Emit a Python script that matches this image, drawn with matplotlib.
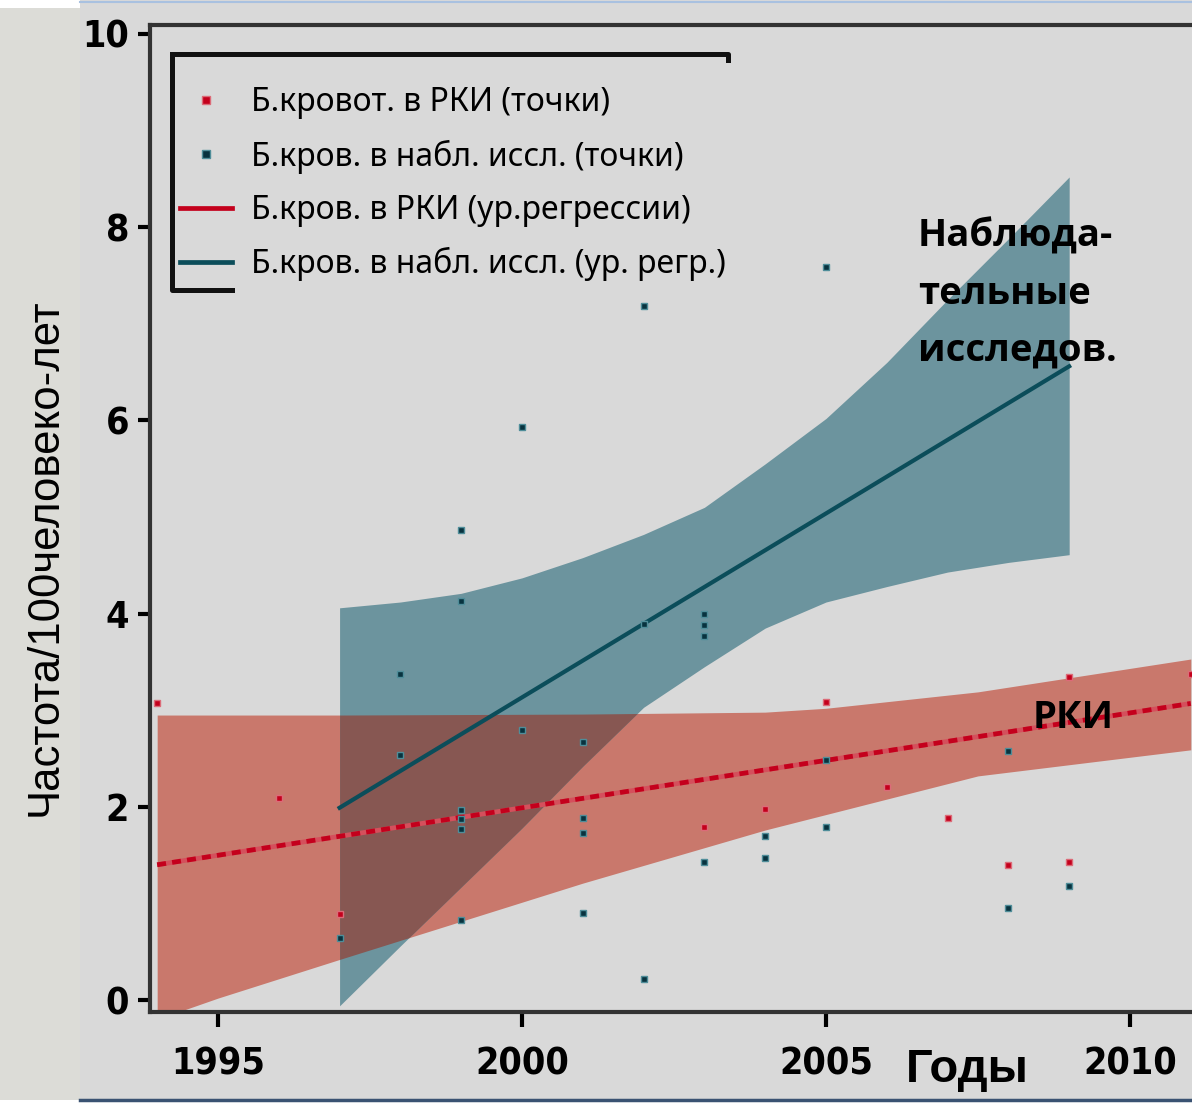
import numpy as np
import matplotlib
matplotlib.use("Agg")
import matplotlib.pyplot as plt
from matplotlib.lines import Line2D
from matplotlib.patches import Rectangle
from matplotlib.font_manager import FontProperties

# ---- data -------------------------------------------------------------
rct_years = [1994, 1996, 1997, 2003, 2004, 2005, 2006, 2007, 2008, 2009, 2009, 2011]
rct_rates = [3.07, 2.09, 0.89, 1.79, 1.98, 3.09, 2.20, 1.88, 1.40, 3.34, 1.43, 3.38]

obs_years = [1997, 1998, 1998, 1999, 1999, 1999, 1999, 1999, 1999, 2000, 2000,
             2001, 2001, 2001, 2001, 2002, 2002, 2002, 2003, 2003, 2003, 2003,
             2004, 2004, 2005, 2005, 2005, 2008, 2008, 2009]
obs_rates = [0.64, 3.38, 2.54, 4.87, 4.13, 1.97, 1.87, 1.77, 0.83, 5.93, 2.80,
             2.67, 1.88, 1.73, 0.90, 7.18, 3.89, 0.22, 4.00, 3.88, 3.77, 1.43,
             1.70, 1.47, 7.59, 2.48, 1.79, 2.58, 0.95, 1.18]

# regression lines (end points)
rct_fit_years = [1994, 2011]
rct_fit_rates = [1.40, 3.07]
obs_fit_years = [1997, 2009]
obs_fit_rates = [1.99, 6.56]

# confidence bands
rct_band_years = [1994, 1995, 1997, 2001, 2004, 2005, 2007.5, 2011]
rct_band_low = [-0.20, 0.02, 0.42, 1.21, 1.76, 1.92, 2.32, 2.59]
rct_band_high = [2.95, 2.95, 2.95, 2.96, 2.98, 3.02, 3.19, 3.53]

obs_band_years = [1997, 1998, 1999, 2000, 2001, 2002, 2003, 2004, 2005, 2006, 2007, 2008, 2009]
obs_band_low = [-0.06, 0.56, 1.17, 1.78, 2.42, 3.03, 3.45, 3.85, 4.12, 4.28, 4.43, 4.53, 4.61]
obs_band_high = [4.06, 4.12, 4.21, 4.37, 4.58, 4.82, 5.10, 5.55, 6.02, 6.60, 7.25, 7.88, 8.52]

x_ticks = [1995, 2000, 2005, 2010]
y_ticks = [0, 2, 4, 6, 8, 10]

labels = ["Б.кровот. в РКИ (точки)",
          "Б.кров. в набл. иссл. (точки)",
          "Б.кров. в РКИ (ур.регрессии)",
          "Б.кров. в набл. иссл. (ур. регр.)"]

# ---- colours ----------------------------------------------------------
BG = "#d9d9d9"
RED_BAND = "#c9786c"
BLUE_BAND = "#6c949e"
OVERLAP = "#875752"
RED = "#c4001c"
TEAL = "#0b4d5a"

W, H = 1192, 1103
fig = plt.figure(figsize=(W / 100, H / 100), dpi=100, facecolor=BG)

# page framing around the plot
fig.patches.append(Rectangle((0, 3 / H), 80 / W, (H - 3 - 8) / H, transform=fig.transFigure,
                             facecolor="#dcdcd7", edgecolor="none", zorder=0))
fig.patches.append(Rectangle((0, (H - 8) / H), 80 / W, 8 / H, transform=fig.transFigure,
                             facecolor="white", edgecolor="none", zorder=0))
fig.patches.append(Rectangle((0, 0), 1, 3 / H, transform=fig.transFigure,
                             facecolor="white", edgecolor="none", zorder=0))
fig.lines.append(Line2D([80 / W, 1], [(H - 1.5) / H] * 2, transform=fig.transFigure,
                        color="#a9c1e0", lw=1.5))
fig.lines.append(Line2D([80 / W, 1], [3.5 / H] * 2, transform=fig.transFigure,
                        color="#3a5272", lw=2.5))

ax = fig.add_axes([150 / W, (H - 1012) / H, (W - 150) / W, (1012 - 25) / H])
ax.set_facecolor(BG)
ax.set_xlim(1993.882, 2011.02)
ax.set_ylim(-0.124, 10.093)

# bands
ax.fill_between(rct_band_years, rct_band_low, rct_band_high, color=RED_BAND, lw=0, zorder=1)
ax.fill_between(obs_band_years, obs_band_low, obs_band_high, color=BLUE_BAND, lw=0, zorder=1)
grid = np.linspace(obs_band_years[0], obs_band_years[-1], 600)
lo = np.maximum(np.interp(grid, rct_band_years, rct_band_low), np.interp(grid, obs_band_years, obs_band_low))
hi = np.minimum(np.interp(grid, rct_band_years, rct_band_high), np.interp(grid, obs_band_years, obs_band_high))
ax.fill_between(grid, lo, hi, where=lo < hi, interpolate=True, color=OVERLAP, lw=0, zorder=2)

# regression lines
ax.plot(rct_fit_years, rct_fit_rates, color="#d4505c", lw=3.4, solid_capstyle="butt", zorder=3)
ax.plot(rct_fit_years, rct_fit_rates, color=RED, lw=3.4, dashes=(1.9, 1.3), zorder=3)
ax.plot(obs_fit_years, obs_fit_rates, color=TEAL, lw=3.0, zorder=3)

# points
ax.plot(rct_years, rct_rates, ls="none", marker="s", ms=4.8, mfc=RED, mec="#dc6b78",
        mew=1.0, zorder=4, clip_on=False)
ax.plot(obs_years, obs_rates, ls="none", marker="s", ms=4.8, mfc="#08333f", mec="#4f8d99",
        mew=1.0, zorder=4)

# axes styling
ax.spines["right"].set_visible(False)
for side in ("left", "bottom", "top"):
    ax.spines[side].set_color("#333333")
    ax.spines[side].set_linewidth(3.0)

tick_font = FontProperties(family=["DejaVu Sans"], stretch="condensed", weight="bold", size=27)
ax.set_xticks(x_ticks)
ax.set_yticks(y_ticks)
ax.set_xticklabels([str(v) for v in x_ticks], fontproperties=tick_font)
ax.set_yticklabels([str(v) for v in y_ticks], fontproperties=tick_font)
ax.tick_params(axis="y", direction="out", length=9, width=3, color="black", pad=6)
ax.tick_params(axis="x", direction="out", length=11, width=3, color="black", pad=13.5)

fig.text(45 / W, 1 - 557 / H, "Частота/100человеко-лет", rotation=90, ha="center", va="center",
         family=["Liberation Sans", "DejaVu Sans"], fontsize=31.5, color="black")
fig.text(906 / W, (H - 1082) / H, "Годы", ha="left", va="baseline",
         family=["Liberation Sans", "DejaVu Sans"], fontsize=34, fontweight="bold")

# legend
handles = [
    Line2D([], [], ls="none", marker="s", ms=5.2, mfc=RED, mec="#dc6b78", mew=1.0),
    Line2D([], [], ls="none", marker="s", ms=5.2, mfc="#08333f", mec="#4f8d99", mew=1.0),
    Line2D([], [], color=RED, lw=3.4),
    Line2D([], [], color=TEAL, lw=3.4),
]
ax.legend(handles, labels, loc="upper left", bbox_to_anchor=(180 / W, 1 - 86 / H),
          bbox_transform=fig.transFigure, frameon=False,
          prop=FontProperties(family=["Noto Sans", "DejaVu Sans"], size=23),
          handlelength=1.63, handletextpad=0.6, labelspacing=0.64,
          borderpad=0, borderaxespad=0)

# legend frame
def frame_line(xs, ys):
    fig.lines.append(Line2D([x / W for x in xs], [1 - y / H for y in ys], transform=fig.transFigure,
                            color="#111111", lw=3.6, solid_capstyle="projecting", zorder=5))

frame_line([172, 728, 728], [54, 54, 60])
frame_line([172, 172, 232], [54, 290, 290])

# annotations
ann_font = dict(family=["Open Sans", "Liberation Sans", "DejaVu Sans"], fontsize=27.5,
                fontweight="bold", color="black")
ax.text(2006.51, 7.795, "Наблюда-", ha="left", va="baseline", zorder=6, **ann_font)
ax.text(2006.51, 7.21, "тельные", ha="left", va="baseline", zorder=6, **ann_font)
ax.text(2006.51, 6.625, "исследов.", ha="left", va="baseline", zorder=6, **ann_font)
ax.text(2008.40, 2.816, "РКИ", ha="left", va="baseline", zorder=6, **ann_font)

fig.savefig("out.png", dpi=100, facecolor=fig.get_facecolor())
